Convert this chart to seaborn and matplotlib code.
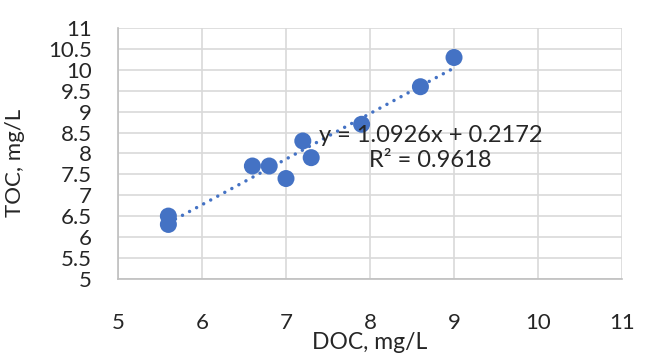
import pandas as pd
import seaborn as sns
import matplotlib.pyplot as plt

# DOC / TOC values
doc = [5.6, 5.6, 6.6, 6.8, 7.0, 7.2, 7.3, 7.9, 8.6, 9.0]
toc = [6.5, 6.3, 7.7, 7.7, 7.4, 8.3, 7.9, 8.7, 9.6, 10.3]
x_ticks = [5, 6, 7, 8, 9, 10, 11]
y_ticks = [5, 5.5, 6, 6.5, 7, 7.5, 8, 8.5, 9, 9.5, 10, 10.5, 11]
eq_text = 'y = 1.0926x + 0.2172\nR² = 0.9618'

df = pd.DataFrame({'DOC': doc, 'TOC': toc})

sns.set_style('white')
plt.rcParams['font.family'] = ['Lato', 'DejaVu Sans']

blue = '#4472C4'
fig = plt.figure(figsize=(6.5, 3.59), dpi=100)
ax = fig.add_axes([0.1815, 0.2237, 0.7755, 0.6975])

sns.regplot(data=df, x='DOC', y='TOC', ax=ax, scatter=False, ci=None,
            line_kws=dict(color=blue, lw=2.5, linestyle=(0, (0.01, 2.3)),
                          dash_capstyle='round'))
sns.scatterplot(data=df, x='DOC', y='TOC', ax=ax, color=blue, s=150,
                edgecolor='none', zorder=3)

ax.set_xlim(5, 11)
ax.set_ylim(5, 11)
ax.set_xticks(x_ticks)
ax.set_yticks(y_ticks)
ax.set_yticklabels([f'{v:g}' for v in y_ticks])
ax.grid(True, color='#D9D9D9', lw=1.2)
ax.set_axisbelow(True)
for s in ['top', 'right']:
    ax.spines[s].set_visible(False)
for s in ['left', 'bottom']:
    ax.spines[s].set_color('#BFBFBF')
    ax.spines[s].set_linewidth(1.2)
ax.tick_params(axis='x', length=0, pad=25, labelsize=16)
ax.tick_params(axis='y', length=0, pad=19, labelsize=16)

ax.set_xlabel('DOC, mg/L', fontsize=16.5)
ax.set_ylabel('TOC, mg/L', fontsize=16)
ax.xaxis.set_label_coords(0.5, -0.213)
ax.yaxis.set_label_coords(-0.185, 0.462)

ax.text(8.72, 8.13, eq_text, ha='center', va='center', fontsize=17,
        multialignment='center', linespacing=1.2)

fig.savefig('out.png', dpi=100)
